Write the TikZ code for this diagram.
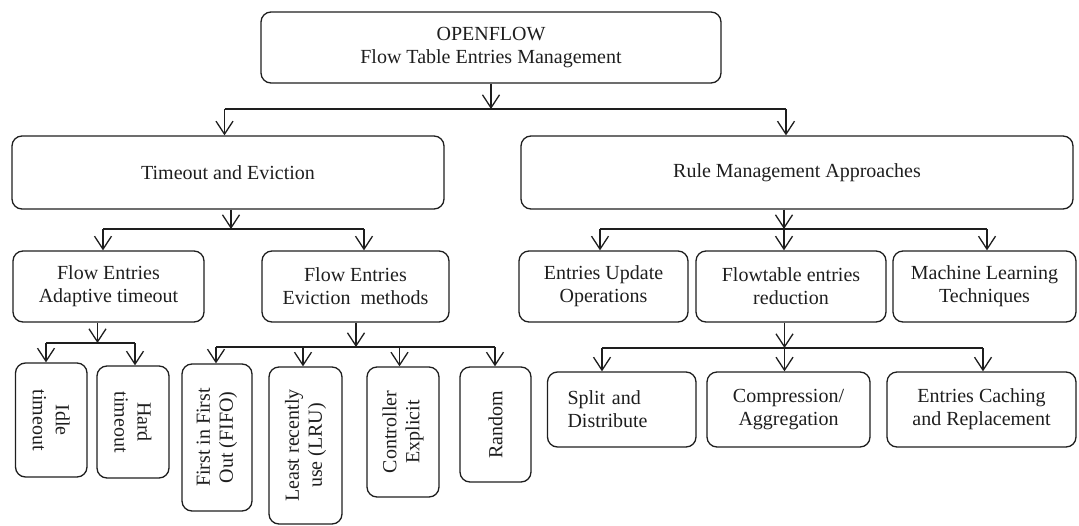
\documentclass[tikz,border=0pt]{standalone}
\usepackage{fontspec}
\setmainfont{Liberation Serif}
\usetikzlibrary{arrows.meta}
\definecolor{ink}{HTML}{1E1E1E}
\begin{document}
\begin{tikzpicture}[x=1pt,y=-1pt,
  txt/.style={font=\fontsize{20}{23}\selectfont, text=ink},
  box/.style={draw=ink, line width=1.3pt, rounded corners=10pt, inner sep=0pt, align=center, txt},
  vlab/.style={txt, align=center, inner sep=0pt},
  ln/.style={draw=ink, line width=1.3pt},
  arr/.style={draw=ink, line width=1.3pt, -{Straight Barb[length=13pt,width=17pt]}}
]
\useasboundingbox (0,0) rectangle (1079,525);

% ---- boxes ----
\node[box, minimum width=460pt, minimum height=71pt] (top) at (491,47.5) {OPENFLOW\\Flow Table Entries Management};

\node[box, minimum width=432pt, minimum height=73pt] (tmo) at (228,172.5) {Timeout and Eviction};
\node[box, minimum width=552pt, minimum height=73pt] (rule) at (797,172.5) {Rule Management Approaches};

\node[box, minimum width=191pt, minimum height=71pt] (adap) at (108.5,286.5) {Flow Entries\\Adaptive timeout};
\node[box, minimum width=187pt, minimum height=71pt] (evic) at (355.5,286.5) {Flow Entries\\Eviction\ \ methods};
\node[box, minimum width=169pt, minimum height=71pt] (upd) at (603.5,286.5) {Entries Update\\Operations};
\node[box, minimum width=190pt, minimum height=71pt] (flt) at (791,286.5) {Flowtable entries\\reduction};
\node[box, minimum width=183pt, minimum height=71pt] (ml) at (984.5,286.5) {Machine Learning\\Techniques};

\node[box, minimum width=71.5pt, minimum height=114pt,
      label={[vlab, rotate=-90]center:Idle\\timeout}] (idle) at (51.25,420) {};
\node[box, minimum width=72pt, minimum height=112pt,
      label={[vlab, rotate=-90]center:Hard\\timeout}] (hard) at (133,422) {};
\node[box, minimum width=70pt, minimum height=147pt,
      label={[vlab, rotate=90]center:First in First\\Out (FIFO)}] (fifo) at (217,437.5) {};
\node[box, minimum width=73pt, minimum height=157pt,
      label={[vlab, rotate=90]center:Least recently\\use (LRU)}] (lru) at (305.5,445.5) {};
\node[box, minimum width=72pt, minimum height=130pt,
      label={[vlab, rotate=90]center:Controller\\Explicit}] (ctrl) at (403,432) {};
\node[box, minimum width=71pt, minimum height=115pt,
      label={[vlab, rotate=90]center:Random}] (rand) at (495.5,424.5) {};

\node[box, minimum width=148.5pt, minimum height=75pt, text width=108.5pt, align=left] (split) at (621.75,409.5) {Split and\\Distribute};
\node[box, minimum width=163pt, minimum height=75pt] (comp) at (788.5,409.5) {Compression/\\Aggregation};
\node[box, minimum width=189pt, minimum height=75pt] (cach) at (981.5,409.5) {Entries Caching\\and Replacement};

% ---- level 1 connectors ----
\coordinate (h1) at (491,109);
\coordinate (h1l) at (224.5,109);
\coordinate (h1r) at (786,109);
\draw[arr] (top.south) -- (h1);
\draw[ln] (h1l) -- (h1r);
\draw[arr] (h1l) -- (h1l |- tmo.north);
\draw[arr] (h1r) -- (h1r |- rule.north);

% ---- Timeout and Eviction ----
\coordinate (h2) at (231,229);
\coordinate (h2l) at (103,229);
\coordinate (h2r) at (364,229);
\draw[arr] (h2 |- tmo.south) -- (h2);
\draw[ln] (h2l) -- (h2r);
\draw[arr] (h2l) -- (h2l |- adap.north);
\draw[arr] (h2r) -- (h2r |- evic.north);

% ---- Adaptive timeout ----
\coordinate (h3) at (97.5,343);
\coordinate (h3l) at (46,343);
\coordinate (h3r) at (135,343);
\draw[arr] (h3 |- adap.south) -- (h3);
\draw[ln] (h3l) -- (h3r);
\draw[arr] (h3l) -- (h3l |- idle.north);
\draw[arr] (h3r) -- (h3r |- hard.north);

% ---- Eviction methods ----
\coordinate (h4) at (356,347);
\coordinate (h4a) at (216,347);
\coordinate (h4b) at (303,347);
\coordinate (h4c) at (399.5,347);
\coordinate (h4d) at (495,347);
\draw[arr] (h4 |- evic.south) -- (h4);
\draw[ln] (h4a) -- (h4d);
\draw[arr] (h4a) -- (h4a |- fifo.north);
\draw[arr] (h4b) -- (h4b |- lru.north);
\draw[arr] (h4c) -- (h4c |- ctrl.north);
\draw[arr] (h4d) -- (h4d |- rand.north);

% ---- Rule Management ----
\coordinate (h5) at (784,229);
\coordinate (h5l) at (600,229);
\coordinate (h5r) at (987,229);
\draw[arr] (h5 |- rule.south) -- (h5);
\draw[ln] (h5l) -- (h5r);
\draw[arr] (h5l) -- (h5l |- upd.north);
\draw[arr] (h5) -- (h5 |- flt.north);
\draw[arr] (h5r) -- (h5r |- ml.north);

% ---- Flowtable entries reduction ----
\coordinate (h6) at (784.5,348);
\coordinate (h6l) at (602,348);
\coordinate (h6r) at (983,348);
\draw[arr] (h6 |- flt.south) -- (h6);
\draw[ln] (h6l) -- (h6r);
\draw[arr] (h6l) -- (h6l |- split.north);
\draw[arr] (h6) -- (h6 |- comp.north);
\draw[arr] (h6r) -- (h6r |- cach.north);
\end{tikzpicture}
\end{document}
